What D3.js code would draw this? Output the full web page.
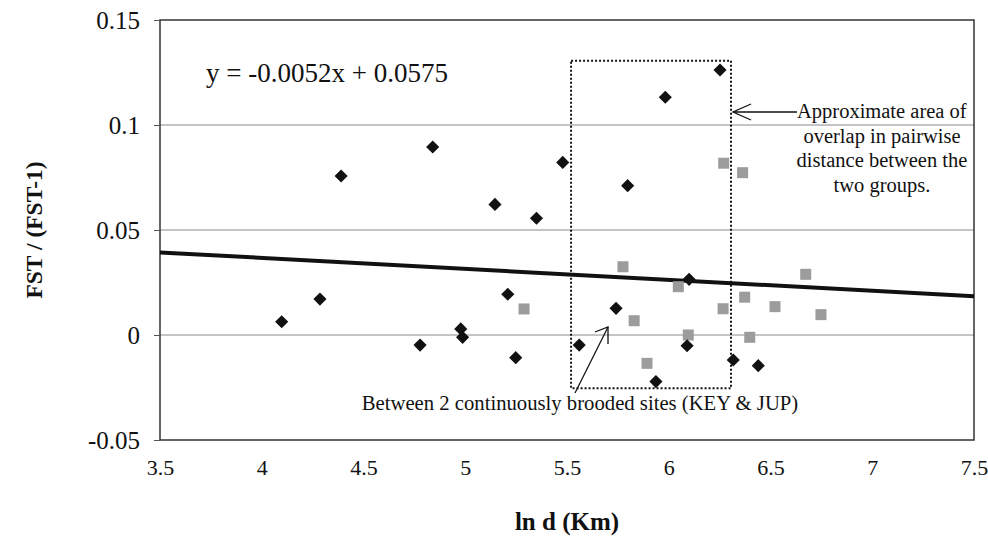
<!DOCTYPE html>
<meta charset="utf-8">
<title>FST vs ln d</title>
<style>
body { margin: 0; background: #fff; }
text { font-family: "Liberation Serif", "Times New Roman", serif; fill: #111; }
.grid line { stroke: #8a8a8a; stroke-width: 1px; }
</style>
<svg></svg>
<script src="https://cdn.jsdelivr.net/npm/d3@7"></script>
<script>
// group 1 : black diamonds
var diamondX = [4.098, 4.286, 4.39, 4.84, 4.778, 4.978, 4.987, 5.146, 5.209, 5.248, 5.35,
                5.479, 5.56, 5.741, 5.798, 5.937, 5.983, 6.09, 6.10, 6.252, 6.317, 6.44];
var diamondY = [0.0063, 0.0171, 0.0757, 0.0895, -0.0048, 0.0029, -0.0011, 0.0622, 0.0194, -0.0108, 0.0556,
                0.0822, -0.0048, 0.0127, 0.0711, -0.0222, 0.1132, -0.0051, 0.0265, 0.1262, -0.0119, -0.0146];
// group 2 : grey squares
var squareX = [5.289, 5.775, 5.83, 5.893, 6.047, 6.096, 6.267, 6.27, 6.363, 6.373, 6.398, 6.522, 6.673, 6.748];
var squareY = [0.0124, 0.0325, 0.0068, -0.0135, 0.023, 0.0, 0.0125, 0.0818, 0.0773, 0.018, -0.0011, 0.0135, 0.0289, 0.0097];
// regression y = -0.0052x + 0.0575
var slope = -0.0052, intercept = 0.0575;
var xTicks = [3.5, 4, 4.5, 5, 5.5, 6, 6.5, 7, 7.5];
var yTicks = [-0.05, 0, 0.05, 0.1, 0.15];
// dotted overlap box (ln d range, FST range)
var boxX = [5.52, 6.306], boxY = [-0.0254, 0.1306];

var width = 988, height = 537;
var m = {left: 160, right: 14, top: 20, bottom: 97};

var svg = d3.select("svg").attr("width", width).attr("height", height);

var x = d3.scaleLinear().domain([3.5, 7.5]).range([m.left, width - m.right]);
var y = d3.scaleLinear().domain([-0.05, 0.15]).range([height - m.bottom, m.top]);

// gridlines
svg.append("g").attr("class", "grid")
  .selectAll("line").data(yTicks.slice(1, 4)).enter().append("line")
    .attr("x1", x(3.5)).attr("x2", x(7.5))
    .attr("y1", function(d) { return y(d); }).attr("y2", function(d) { return y(d); });

// plot border
svg.append("rect")
    .attr("x", x(3.5)).attr("y", y(0.15))
    .attr("width", x(7.5) - x(3.5)).attr("height", y(-0.05) - y(0.15))
    .style("fill", "none").style("stroke", "#333").style("stroke-width", 1.5);

// y axis
var yAxis = d3.axisLeft(y).tickValues(yTicks).tickSize(6).tickPadding(14)
    .tickFormat(function(d) { return d === 0 ? "0" : String(+d.toFixed(2)); });
var gy = svg.append("g").attr("transform", "translate(" + x(3.5) + ",0)").call(yAxis);
gy.select(".domain").remove();
gy.selectAll(".tick line").style("stroke", "#555");
gy.selectAll("text").style("font-size", "25px").style("font-family", "Liberation Serif").style("fill", "#111");

// x axis (labels only)
var xAxis = d3.axisBottom(x).tickValues(xTicks).tickSize(0).tickPadding(19)
    .tickFormat(function(d) { return String(d); });
var gx = svg.append("g").attr("transform", "translate(0," + y(-0.05) + ")").call(xAxis);
gx.select(".domain").remove();
gx.selectAll("text").style("font-size", "22px").style("font-family", "Liberation Serif").style("fill", "#111");

// axis titles
svg.append("text")
    .attr("transform", "translate(42," + (y(0.05)) + ") rotate(-90)")
    .attr("text-anchor", "middle")
    .style("font-size", "23.5px").style("font-weight", "bold")
    .text("FST / (FST-1)");
svg.append("text")
    .attr("x", (x(3.5) + x(7.5)) / 2).attr("y", 530)
    .attr("text-anchor", "middle")
    .style("font-size", "25px").style("font-weight", "bold")
    .text("ln d (Km)");

// regression line
svg.append("line")
    .attr("x1", x(3.5)).attr("y1", y(slope * 3.5 + intercept))
    .attr("x2", x(7.5)).attr("y2", y(slope * 7.5 + intercept))
    .style("stroke", "#111").style("stroke-width", 4);

// dotted box
svg.append("rect")
    .attr("x", x(boxX[0])).attr("y", y(boxY[1]))
    .attr("width", x(boxX[1]) - x(boxX[0])).attr("height", y(boxY[0]) - y(boxY[1]))
    .style("fill", "none").style("stroke", "#111").style("stroke-width", 2)
    .style("stroke-dasharray", "2,2");

// squares
var sq = d3.range(squareX.length).map(function(i) { return [squareX[i], squareY[i]]; });
svg.append("g").selectAll("rect").data(sq).enter().append("rect")
    .attr("x", function(d) { return x(d[0]) - 5.5; })
    .attr("y", function(d) { return y(d[1]) - 5.5; })
    .attr("width", 11).attr("height", 11)
    .style("fill", "#9c9c9c");

// diamonds
var dm = d3.range(diamondX.length).map(function(i) { return [diamondX[i], diamondY[i]]; });
var diamond = d3.symbol().type(d3.symbolDiamond2).size(110);
svg.append("g").selectAll("path").data(dm).enter().append("path")
    .attr("transform", function(d) { return "translate(" + x(d[0]) + "," + y(d[1]) + ")"; })
    .attr("d", diamond)
    .style("fill", "#111");

// equation
svg.append("text")
    .attr("x", 206).attr("y", 82)
    .style("font-size", "27px")
    .text("y = -0.0052x + 0.0575");

// annotation: overlap area
var ay = 112;
svg.append("line")
    .attr("x1", x(boxX[1]) + 2).attr("y1", ay).attr("x2", 797).attr("y2", ay)
    .style("stroke", "#111").style("stroke-width", 1.3);
svg.append("path")
    .attr("d", "M" + (x(boxX[1]) + 20) + "," + (ay - 8) + "L" + (x(boxX[1]) + 2) + "," + ay + "L" + (x(boxX[1]) + 20) + "," + (ay + 8))
    .style("fill", "none").style("stroke", "#111").style("stroke-width", 1.3);
var note = ["Approximate area of", "overlap in pairwise", "distance between the", "two groups."];
svg.append("g").selectAll("text").data(note).enter().append("text")
    .attr("x", function(d, i) { return i === 0 ? 797 : 882; })
    .attr("y", function(d, i) { return ay + 6 + i * 24.5; })
    .attr("text-anchor", function(d, i) { return i === 0 ? "start" : "middle"; })
    .style("font-size", "20.5px")
    .text(function(d) { return d; });

// annotation: KEY & JUP
svg.append("line")
    .attr("x1", 575).attr("y1", 393).attr("x2", 608).attr("y2", 327)
    .style("stroke", "#111").style("stroke-width", 1.3);
svg.append("path")
    .attr("d", "M595,332L608,327L608,344")
    .style("fill", "none").style("stroke", "#111").style("stroke-width", 1.3);
svg.append("text")
    .attr("x", 580).attr("y", 410)
    .attr("text-anchor", "middle")
    .style("font-size", "20.7px")
    .text("Between 2 continuously brooded sites (KEY & JUP)");
</script>
